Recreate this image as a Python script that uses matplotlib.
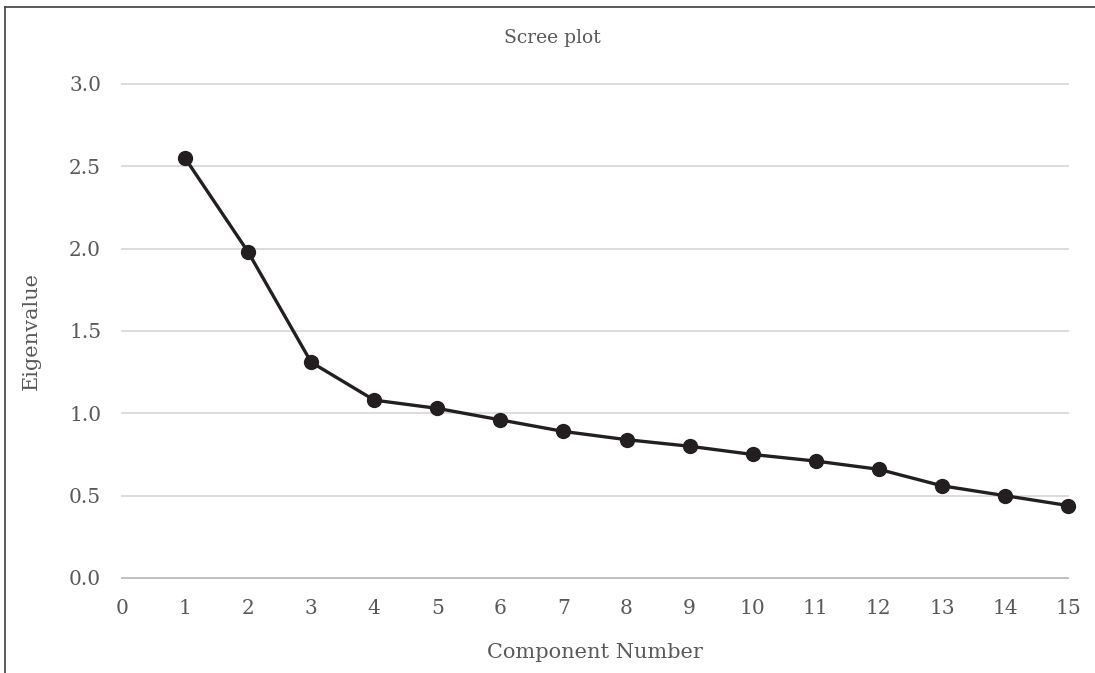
import matplotlib
matplotlib.use('Agg')
import matplotlib.pyplot as plt
from matplotlib.lines import Line2D

# 数据
components = [1, 2, 3, 4, 5, 6, 7, 8, 9, 10, 11, 12, 13, 14, 15]
eigenvalues = [2.55, 1.98, 1.31, 1.08, 1.03, 0.96, 0.89, 0.84, 0.80, 0.75, 0.71, 0.66, 0.56, 0.50, 0.44]
x_ticks = list(range(0, 16))
y_ticks = [0.0, 0.5, 1.0, 1.5, 2.0, 2.5, 3.0]

plt.rcParams['font.family'] = ['DejaVu Serif']
text_color = '#595959'

fig = plt.figure(figsize=(10.95, 6.73), dpi=100)
ax = fig.add_axes([0.1114, 0.1412, 0.9753 - 0.1114, 0.8752 - 0.1412])

ax.plot(components, eigenvalues, color='#231f20', linewidth=2.4,
        marker='o', markersize=10, clip_on=False, zorder=3)

ax.set_xlim(0, 15)
ax.set_ylim(0, 3.0)
ax.set_xticks(x_ticks)
ax.set_yticks(y_ticks)
ax.set_yticklabels([f'{v:.1f}' for v in y_ticks])

# 网格线
ax.grid(axis='y', color='#d9d9d9', linewidth=1.3)
ax.grid(axis='x', visible=False)
for gl in ax.get_ygridlines():
    gl.set_clip_on(False)
for s in ['top', 'right', 'left']:
    ax.spines[s].set_visible(False)
ax.spines['bottom'].set_color('#bfbfbf')
ax.spines['bottom'].set_linewidth(1.3)
ax.tick_params(length=0, labelsize=14.5, colors=text_color)
ax.tick_params(axis='x', pad=15)
ax.tick_params(axis='y', pad=15)

# 标题居中于整张图
fig.text(0.504, 0.943, 'Scree plot', fontsize=13.5, color=text_color, ha='center', va='center')
ax.set_xlabel('Component Number', fontsize=15, color=text_color, labelpad=18)
ax.set_ylabel('Eigenvalue', fontsize=15, color=text_color, labelpad=20)

# 外框（左、上）
fig.add_artist(Line2D([0.005, 0.005], [0, 0.99], transform=fig.transFigure, color='#404040', linewidth=1.2))
fig.add_artist(Line2D([0.005, 1.0], [0.99, 0.99], transform=fig.transFigure, color='#404040', linewidth=1.2))

fig.savefig('out.png', dpi=100)
